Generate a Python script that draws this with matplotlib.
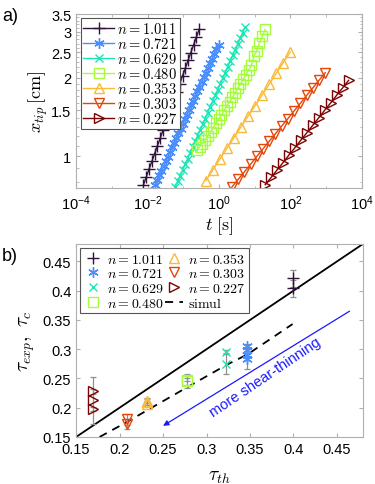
import numpy as np
import matplotlib
matplotlib.use("Agg")
import matplotlib.pyplot as plt
from matplotlib.ticker import LogLocator, NullFormatter, FixedLocator

plt.rcParams['font.family'] = ['Liberation Sans', 'DejaVu Sans']
plt.rcParams['mathtext.fontset'] = 'cm'

# ---- panel a data: tip position vs time ----
n_labels = ["1.011", "0.721", "0.629", "0.480", "0.353", "0.303", "0.227"]
colors = ["#30123b", "#4a8dfc", "#1be5b5", "#a4fc3c", "#fbb938", "#e4460a", "#7a0403"]
markers = ["+", (6, 2, 0), "x", "s", "^", "v", ">"]

t1 = [0.00769, 0.0092, 0.0110, 0.0132, 0.0158, 0.0189, 0.0226, 0.0270, 0.0324, 0.0387, 0.0463,
      0.0555, 0.0664, 0.0794, 0.0951, 0.114, 0.136, 0.163, 0.195, 0.233, 0.279]
x1 = [0.780, 0.836, 0.895, 0.957, 1.026, 1.099, 1.175, 1.259, 1.349, 1.442, 1.545,
      1.656, 1.770, 1.897, 2.032, 2.173, 2.328, 2.495, 2.673, 2.858, 3.062]

t2 = [0.0163, 0.0187, 0.0214, 0.0245, 0.0281, 0.0322, 0.0370, 0.0424, 0.0485, 0.0556, 0.0637,
      0.0729, 0.0836, 0.0957, 0.1096, 0.1259, 0.1442, 0.1652, 0.1892, 0.2168, 0.2483, 0.2844,
      0.3258, 0.3733, 0.4276, 0.4909, 0.5623, 0.6442, 0.7379, 0.8453, 0.9705]
x2 = [0.780, 0.813, 0.847, 0.881, 0.918, 0.957, 0.998, 1.040, 1.084, 1.127, 1.175,
      1.225, 1.276, 1.330, 1.387, 1.445, 1.507, 1.567, 1.633, 1.702, 1.774, 1.849,
      1.928, 2.009, 2.089, 2.178, 2.270, 2.366, 2.466, 2.570, 2.673]

t3 = [0.0593, 0.0697, 0.0818, 0.0962, 0.113, 0.133, 0.156, 0.183, 0.215, 0.253, 0.297,
      0.349, 0.410, 0.482, 0.566, 0.665, 0.782, 0.918, 1.079, 1.268, 1.489, 1.750,
      2.056, 2.415, 2.838, 3.334, 3.917, 4.603, 5.420]
x3 = [0.764, 0.804, 0.845, 0.889, 0.933, 0.982, 1.033, 1.086, 1.143, 1.202, 1.265,
      1.327, 1.396, 1.469, 1.545, 1.626, 1.710, 1.799, 1.888, 1.986, 2.089, 2.198,
      2.312, 2.432, 2.559, 2.685, 2.825, 2.972, 3.126]

t4 = [0.24, 0.285, 0.34, 0.41, 0.49, 0.58, 0.69, 0.82, 0.98, 1.17, 1.39, 1.66, 1.98,
      2.36, 2.81, 3.35, 3.99, 4.76, 5.67, 6.76, 8.05, 9.60, 11.4, 13.6, 16.3, 19.6]
x4 = [1.06, 1.09, 1.12, 1.16, 1.20, 1.24, 1.29, 1.34, 1.39, 1.44, 1.50, 1.56, 1.62,
      1.68, 1.75, 1.82, 1.89, 1.97, 2.05, 2.14, 2.23, 2.43, 2.53, 2.72, 2.88, 3.06]

t5 = [0.429, 0.674, 1.062, 1.667, 2.624, 4.130, 6.501, 10.23, 16.11, 25.29, 39.81, 62.66, 98.6]
x5 = [0.809, 0.889, 0.977, 1.074, 1.180, 1.297, 1.426, 1.563, 1.718, 1.888, 2.075, 2.280, 2.506]

t6 = [2.291, 3.420, 5.117, 7.638, 11.40, 17.06, 25.47, 38.02, 56.75, 84.92, 126.8,
      189.2, 283.1, 422.7, 631.0, 944.1]
x6 = [0.764, 0.817, 0.873, 0.933, 1.000, 1.069, 1.143, 1.222, 1.306, 1.396, 1.493,
      1.596, 1.710, 1.828, 1.954, 2.089]

t7 = [19.68, 28.91, 42.36, 62.23, 91.41, 134.3, 196.8, 289.1, 424.6, 622.3, 914.1,
      1343, 1968, 2891, 4246]
x7 = [0.780, 0.832, 0.889, 0.948, 1.014, 1.081, 1.156, 1.233, 1.318, 1.406, 1.503,
      1.603, 1.714, 1.828, 1.954]

t_all = [t1, t2, t3, t4, t5, t6, t7]
x_all = [x1, x2, x3, x4, x5, x6, x7]

# ---- panel b data: tau_exp vs tau_th ----
tau_th = [0.400, 0.347, 0.3225, 0.278, 0.231, 0.208, 0.169]
tau_exp = [[0.421, 0.404],
           [0.305, 0.298, 0.290, 0.283],
           [0.295, 0.275],
           [0.245, 0.248],
           [0.210, 0.207, 0.212],
           [0.180, 0.172],
           [0.228, 0.213, 0.198]]
tau_err = [[0.015, 0.015],
           [0.004, 0.004, 0.004, 0.017],
           [0.003, 0.018],
           [0.012, 0.003],
           [0.005, 0.004, 0.004],
           [0.010, 0.009],
           [0.004, 0.040, 0.004]]

sim_x = [0.177, 0.209, 0.231, 0.279, 0.324, 0.347, 0.399]
sim_y = [0.150, 0.176, 0.195, 0.236, 0.274, 0.291, 0.343]

axis_gray = "#b0b0b0"

fig = plt.figure(figsize=(3.75, 4.85), dpi=100)

def style_axes(ax):
    for s in ax.spines.values():
        s.set_color(axis_gray)
        s.set_linewidth(0.8)
    ax.tick_params(which='both', direction='in', top=True, right=True,
                   color=axis_gray, labelsize=10.5, labelcolor='black')
    ax.tick_params(which='major', length=3)
    ax.tick_params(which='minor', length=1.8)

# ---------- panel a ----------
ax1 = fig.add_axes([0.203, 0.610, 0.762, 0.359])
msizes = [9, 7.5, 5.5, 6.5, 7.5, 7.5, 7.5]
for i in range(7):
    filled = i < 3
    ax1.plot(t_all[i], x_all[i], color=colors[i], marker=markers[i], ms=msizes[i],
             mfc=colors[i] if filled else 'none', mew=1.0, lw=1.0,
             label=r"$n = %s$" % n_labels[i])
ax1.set_xscale('log')
ax1.set_yscale('log')
ax1.set_xlim(1e-4, 1e4)
ax1.set_ylim(0.757, 3.5)
ax1.xaxis.set_major_locator(FixedLocator([1e-4, 1e-2, 1e0, 1e2, 1e4]))
ax1.xaxis.set_minor_locator(LogLocator(base=10, subs=(1.0,), numticks=20))
ax1.xaxis.set_minor_formatter(NullFormatter())
ax1.yaxis.set_major_locator(FixedLocator([1, 1.5, 2, 2.5, 3, 3.5]))
ax1.yaxis.set_major_formatter(plt.FuncFormatter(lambda v, p: "%g" % v))
ax1.yaxis.set_minor_locator(FixedLocator([0.8, 0.9, 1.1, 1.2, 1.3, 1.4, 1.6, 1.7, 1.8, 1.9,
                                          2.1, 2.2, 2.3, 2.4, 2.6, 2.7, 2.8, 2.9,
                                          3.1, 3.2, 3.3, 3.4]))
ax1.yaxis.set_minor_formatter(NullFormatter())
style_axes(ax1)
ax1.set_xlabel(r"$t\ [\mathrm{s}]$", fontsize=13, labelpad=2)
ax1.set_ylabel(r"$x_{tip}\,[\mathrm{cm}]$", fontsize=13, labelpad=1)
leg1 = ax1.legend(loc='upper left', fontsize=10.5, handlelength=2.1, handletextpad=0.2,
                  borderpad=0.2, labelspacing=0.0, fancybox=False, framealpha=1,
                  borderaxespad=0.3)
leg1.get_frame().set_edgecolor('#555555')
leg1.get_frame().set_linewidth(0.8)

# ---------- panel b ----------
ax2 = fig.add_axes([0.203, 0.097, 0.765, 0.398])
ax2.plot([0.15, 0.48], [0.15, 0.48], color='black', lw=1.3, zorder=1)
for i in range(7):
    filled = i < 3
    xs = [tau_th[i]] * len(tau_exp[i])
    ax2.errorbar(xs, tau_exp[i], yerr=tau_err[i], fmt='none', ecolor='#909090',
                 elinewidth=0.9, capsize=2, capthick=0.9, zorder=2)
    ax2.plot(xs, tau_exp[i], ls='none', marker=markers[i], ms=msizes[i],
             color=colors[i], mfc=colors[i] if filled else 'none', mew=1.0, zorder=3,
             label=r"$n = %s$" % n_labels[i])
ax2.plot(sim_x, sim_y, color='black', ls=(0, (4.5, 3.5)), lw=1.3, zorder=1,
         label=r"$\mathrm{simul}$")
ax2.annotate("", xy=(0.25, 0.169), xytext=(0.4645, 0.365),
             arrowprops=dict(arrowstyle='-|>', color='#1a1aff', lw=0.9,
                             mutation_scale=8, shrinkA=0, shrinkB=0))
ax2.text(0.368, 0.253, "more shear-thinning", color='#1a1aff', fontsize=10.5,
         rotation=34, ha='center', va='center', rotation_mode='anchor')
ax2.set_xlim(0.15, 0.48)
ax2.set_ylim(0.15, 0.48)
ax2.set_xticks([0.15, 0.2, 0.25, 0.3, 0.35, 0.4, 0.45])
ax2.set_yticks([0.15, 0.2, 0.25, 0.3, 0.35, 0.4, 0.45])
ax2.xaxis.set_major_formatter(plt.FuncFormatter(lambda v, p: "%g" % round(v, 2)))
ax2.yaxis.set_major_formatter(plt.FuncFormatter(lambda v, p: "%g" % round(v, 2)))
style_axes(ax2)
ax2.set_xlabel(r"$\tau_{th}$", fontsize=14, labelpad=9)
ax2.set_ylabel(r"$\tau_{exp},\ \tau_c$", fontsize=14, labelpad=4)
leg2 = ax2.legend(loc='upper left', ncol=2, fontsize=10, handlelength=1.3,
                  handletextpad=0.35, columnspacing=0.1, borderpad=0.25,
                  labelspacing=0.05, fancybox=False, framealpha=1, borderaxespad=0.3)
leg2.get_frame().set_edgecolor('#555555')
leg2.get_frame().set_linewidth(0.8)

fig.text(0.005, 0.965, "a)", fontsize=13, ha='left', va='center')
fig.text(0.005, 0.472, "b)", fontsize=13, ha='left', va='center')

fig.savefig("out.png", dpi=100)
